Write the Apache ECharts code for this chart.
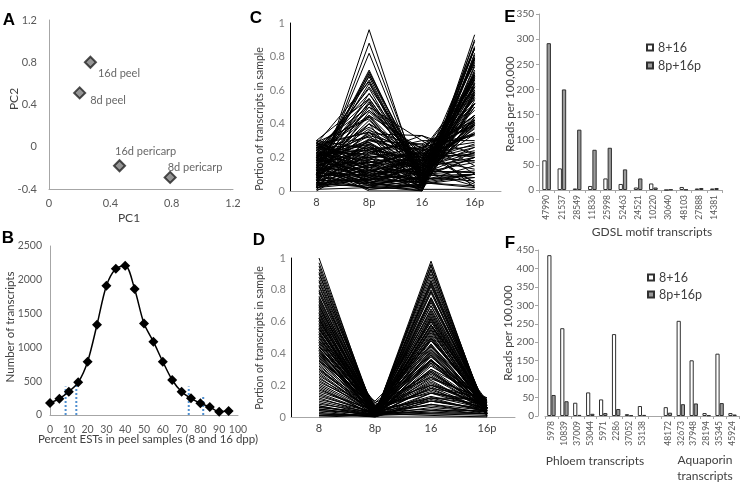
<!DOCTYPE html>
<html>
<head>
<meta charset="utf-8">
<script src="https://cdn.jsdelivr.net/npm/echarts@6/dist/echarts.min.js"></script>
<style>
  html, body { margin: 0; padding: 0; background: #fff; }
  #chart { width: 741px; height: 483px; }
</style>
</head>
<body>
<div id="chart"></div>
<script>
// A: PCA of the four samples
const pcaNames = ['16d peel', '8d peel', '16d pericarp', '8d pericarp'];
const pcaX = [0.27, 0.20, 0.46, 0.79];
const pcaY = [0.80, 0.51, -0.18, -0.29];

// B: distribution of transcripts by percent peel ESTs
const pctBins = [0, 5, 10, 15, 20, 25, 30, 35, 40, 45, 50, 55, 60, 65, 70, 75, 80, 85, 90, 95];
const binCounts = [177, 241, 345, 483, 789, 1335, 1913, 2165, 2209, 1864, 1352, 1085, 789, 518, 345, 246, 173, 118, 49, 59];
const cutX = [8.3, 14, 73.8, 81.5];
const cutTop = [420, 445, 420, 272];

// C, D: per-transcript portion in each sample
const samples = ['8', '8p', '16', '16p'];
const pericarpProfiles = [
  [0.02, 0.96, 0.01, 0.01], [0.04, 0.88, 0.05, 0.03], [0.06, 0.82, 0.04, 0.08], [0.12, 0.72, 0.06, 0.10],
  [0.10, 0.71, 0.09, 0.10], [0.15, 0.70, 0.05, 0.10], [0.08, 0.69, 0.12, 0.11], [0.18, 0.68, 0.04, 0.10],
  [0.20, 0.66, 0.08, 0.06], [0.14, 0.64, 0.10, 0.12], [0.22, 0.61, 0.07, 0.10], [0.09, 0.58, 0.15, 0.18],
  [0.17, 0.55, 0.11, 0.17], [0.25, 0.54, 0.06, 0.15], [0.13, 0.53, 0.14, 0.20], [0.19, 0.52, 0.09, 0.20],
  [0.27, 0.50, 0.12, 0.11], [0.07, 0.47, 0.18, 0.28], [0.16, 0.45, 0.13, 0.26], [0.23, 0.44, 0.10, 0.23],
  [0.29, 0.43, 0.08, 0.20], [0.11, 0.40, 0.22, 0.27], [0.21, 0.38, 0.17, 0.24], [0.05, 0.36, 0.26, 0.33],
  [0.28, 0.35, 0.14, 0.23], [0.18, 0.34, 0.33, 0.15], [0.26, 0.32, 0.20, 0.22], [0.14, 0.31, 0.21, 0.34],
  [0.24, 0.45, 0.25, 0.05], [0.30, 0.55, 0.12, 0.03], [0.20, 0.30, 0.28, 0.02], [0.10, 0.50, 0.30, 0.10],
  [0.20, 0.28, 0.15, 0.37], [0.15, 0.25, 0.18, 0.42], [0.25, 0.24, 0.12, 0.39], [0.10, 0.22, 0.20, 0.48],
  [0.28, 0.21, 0.08, 0.43], [0.18, 0.20, 0.22, 0.40], [0.05, 0.19, 0.16, 0.60], [0.22, 0.18, 0.10, 0.50],
  [0.12, 0.17, 0.14, 0.57], [0.27, 0.16, 0.05, 0.52], [0.08, 0.15, 0.25, 0.52], [0.19, 0.14, 0.11, 0.56],
  [0.24, 0.13, 0.03, 0.60], [0.03, 0.12, 0.19, 0.66], [0.14, 0.11, 0.06, 0.69], [0.21, 0.10, 0.02, 0.67],
  [0.09, 0.10, 0.13, 0.68], [0.26, 0.09, 0.08, 0.57], [0.16, 0.08, 0.01, 0.75], [0.06, 0.07, 0.10, 0.77],
  [0.11, 0.06, 0.03, 0.80], [0.23, 0.05, 0.00, 0.72], [0.02, 0.05, 0.07, 0.86], [0.13, 0.04, 0.02, 0.81],
  [0.18, 0.03, 0.09, 0.70], [0.07, 0.02, 0.01, 0.90], [0.04, 0.03, 0.00, 0.93], [0.10, 0.01, 0.04, 0.85],
  [0.01, 0.02, 0.12, 0.85], [0.15, 0.00, 0.00, 0.85], [0.20, 0.06, 0.15, 0.59], [0.25, 0.10, 0.20, 0.45],
  [0.05, 0.25, 0.28, 0.42], [0.12, 0.20, 0.26, 0.42], [0.17, 0.23, 0.30, 0.30], [0.22, 0.15, 0.24, 0.39],
  [0.08, 0.30, 0.22, 0.40], [0.28, 0.12, 0.18, 0.42], [0.10, 0.35, 0.05, 0.50], [0.03, 0.28, 0.02, 0.67],
  [0.14, 0.27, 0.01, 0.58], [0.06, 0.40, 0.00, 0.54], [0.20, 0.33, 0.03, 0.44], [0.00, 0.18, 0.00, 0.82],
  [0.02, 0.08, 0.05, 0.85], [0.12, 0.14, 0.00, 0.74], [0.26, 0.20, 0.02, 0.52], [0.09, 0.04, 0.08, 0.79],
  [0.19, 0.07, 0.05, 0.69], [0.04, 0.16, 0.09, 0.71], [0.30, 0.25, 0.25, 0.20], [0.27, 0.35, 0.20, 0.18],
  [0.16, 0.40, 0.18, 0.26], [0.23, 0.22, 0.33, 0.22], [0.13, 0.19, 0.27, 0.41], [0.29, 0.08, 0.22, 0.41],
  [0.18, 0.62, 0.16, 0.04], [0.24, 0.48, 0.23, 0.05], [0.11, 0.26, 0.04, 0.59], [0.21, 0.05, 0.12, 0.62],
  [0.03, 0.14, 0.21, 0.62], [0.07, 0.21, 0.17, 0.55], [0.11, 0.09, 0.19, 0.61], [0.15, 0.17, 0.23, 0.45],
  [0.19, 0.26, 0.16, 0.39], [0.23, 0.11, 0.21, 0.45], [0.27, 0.19, 0.14, 0.40], [0.01, 0.23, 0.13, 0.63],
  [0.05, 0.06, 0.24, 0.65], [0.09, 0.28, 0.11, 0.52], [0.13, 0.07, 0.18, 0.62], [0.17, 0.12, 0.07, 0.64],
  [0.21, 0.29, 0.06, 0.44], [0.25, 0.04, 0.16, 0.55], [0.29, 0.17, 0.19, 0.35], [0.02, 0.31, 0.15, 0.52],
  [0.06, 0.13, 0.03, 0.78], [0.10, 0.24, 0.08, 0.58], [0.14, 0.05, 0.15, 0.66], [0.18, 0.16, 0.04, 0.62],
  [0.22, 0.08, 0.18, 0.52], [0.26, 0.27, 0.09, 0.38], [0.30, 0.14, 0.11, 0.45], [0.04, 0.09, 0.17, 0.70],
  [0.08, 0.18, 0.06, 0.68], [0.12, 0.42, 0.12, 0.34], [0.16, 0.37, 0.07, 0.40], [0.20, 0.48, 0.19, 0.13],
  [0.24, 0.58, 0.10, 0.08], [0.28, 0.65, 0.05, 0.02], [0.06, 0.52, 0.21, 0.21], [0.10, 0.45, 0.06, 0.39],
  [0.14, 0.33, 0.24, 0.29], [0.18, 0.29, 0.12, 0.41], [0.22, 0.24, 0.20, 0.34], [0.26, 0.14, 0.26, 0.34],
  [0.02, 0.11, 0.23, 0.64], [0.05, 0.02, 0.04, 0.89], [0.08, 0.05, 0.02, 0.85], [0.12, 0.03, 0.06, 0.79],
  [0.17, 0.01, 0.03, 0.79], [0.03, 0.07, 0.14, 0.76], [0.09, 0.12, 0.10, 0.69], [0.20, 0.09, 0.07, 0.64]
];
const peelProfiles = [
  [1.00, 0.00, 0.00, 0.00], [0.95, 0.01, 0.02, 0.02], [0.93, 0.02, 0.03, 0.02], [0.90, 0.03, 0.05, 0.02],
  [0.88, 0.02, 0.08, 0.02], [0.85, 0.01, 0.10, 0.04], [0.82, 0.03, 0.12, 0.03], [0.80, 0.05, 0.10, 0.05],
  [0.78, 0.02, 0.15, 0.05], [0.75, 0.04, 0.18, 0.03], [0.73, 0.01, 0.20, 0.06], [0.72, 0.06, 0.17, 0.05],
  [0.70, 0.03, 0.22, 0.05], [0.68, 0.02, 0.25, 0.05], [0.67, 0.05, 0.21, 0.07], [0.65, 0.01, 0.28, 0.06],
  [0.63, 0.04, 0.27, 0.06], [0.62, 0.02, 0.30, 0.06], [0.60, 0.07, 0.28, 0.05], [0.58, 0.03, 0.33, 0.06],
  [0.57, 0.01, 0.35, 0.07], [0.55, 0.05, 0.34, 0.06], [0.54, 0.02, 0.38, 0.06], [0.52, 0.04, 0.39, 0.05],
  [0.50, 0.01, 0.42, 0.07], [0.49, 0.06, 0.40, 0.05], [0.48, 0.02, 0.44, 0.06], [0.46, 0.03, 0.45, 0.06],
  [0.45, 0.00, 0.48, 0.07], [0.44, 0.05, 0.46, 0.05], [0.42, 0.02, 0.50, 0.06], [0.41, 0.04, 0.49, 0.06],
  [0.40, 0.01, 0.53, 0.06], [0.38, 0.03, 0.54, 0.05], [0.37, 0.06, 0.51, 0.06], [0.36, 0.02, 0.56, 0.06],
  [0.35, 0.04, 0.55, 0.06], [0.33, 0.01, 0.60, 0.06], [0.32, 0.03, 0.58, 0.07], [0.30, 0.05, 0.60, 0.05],
  [0.28, 0.02, 0.63, 0.07], [0.26, 0.04, 0.64, 0.06], [0.25, 0.01, 0.68, 0.06], [0.23, 0.03, 0.70, 0.04],
  [0.22, 0.05, 0.67, 0.06], [0.20, 0.02, 0.72, 0.06], [0.18, 0.01, 0.75, 0.06], [0.17, 0.04, 0.73, 0.06],
  [0.15, 0.02, 0.78, 0.05], [0.13, 0.03, 0.80, 0.04], [0.12, 0.01, 0.82, 0.05], [0.10, 0.02, 0.85, 0.03],
  [0.08, 0.03, 0.84, 0.05], [0.07, 0.01, 0.88, 0.04], [0.06, 0.02, 0.90, 0.02], [0.05, 0.01, 0.93, 0.01],
  [0.03, 0.00, 0.96, 0.01], [0.01, 0.01, 0.98, 0.00], [0.07, 0.00, 0.10, 0.05], [0.05, 0.01, 0.06, 0.03],
  [0.04, 0.00, 0.12, 0.08], [0.01, 0.02, 0.04, 0.02], [0.06, 0.03, 0.02, 0.01], [0.02, 0.00, 0.15, 0.10],
  [0.00, 0.01, 0.08, 0.04], [0.60, 0.02, 0.18, 0.12], [0.40, 0.08, 0.20, 0.11], [0.55, 0.09, 0.25, 0.10],
  [0.45, 0.03, 0.30, 0.12], [0.65, 0.07, 0.15, 0.09], [0.35, 0.10, 0.45, 0.10], [0.50, 0.05, 0.35, 0.10],
  [0.70, 0.04, 0.12, 0.11], [0.38, 0.02, 0.62, 0.08], [0.42, 0.01, 0.58, 0.09], [0.52, 0.03, 0.45, 0.02],
  [0.58, 0.01, 0.40, 0.01], [0.62, 0.00, 0.36, 0.02], [0.47, 0.02, 0.52, 0.03], [0.43, 0.00, 0.55, 0.02],
  [0.97, 0.02, 0.01, 0.00], [0.91, 0.01, 0.04, 0.04], [0.86, 0.04, 0.07, 0.03], [0.83, 0.02, 0.11, 0.04],
  [0.79, 0.03, 0.13, 0.05], [0.76, 0.01, 0.19, 0.04], [0.74, 0.05, 0.16, 0.05], [0.71, 0.02, 0.23, 0.04],
  [0.69, 0.04, 0.20, 0.07], [0.66, 0.03, 0.26, 0.05], [0.64, 0.02, 0.29, 0.05], [0.61, 0.05, 0.29, 0.05],
  [0.59, 0.01, 0.34, 0.06], [0.56, 0.03, 0.36, 0.05], [0.53, 0.06, 0.36, 0.05], [0.51, 0.02, 0.41, 0.06],
  [0.47, 0.04, 0.43, 0.06], [0.43, 0.02, 0.49, 0.06], [0.39, 0.05, 0.50, 0.06], [0.34, 0.03, 0.57, 0.06],
  [0.31, 0.01, 0.62, 0.06], [0.29, 0.04, 0.61, 0.06], [0.27, 0.02, 0.65, 0.06], [0.24, 0.05, 0.66, 0.05],
  [0.21, 0.03, 0.70, 0.06], [0.19, 0.01, 0.74, 0.06], [0.16, 0.04, 0.75, 0.05], [0.14, 0.02, 0.79, 0.05],
  [0.11, 0.03, 0.83, 0.03], [0.09, 0.01, 0.86, 0.04], [0.04, 0.02, 0.92, 0.02], [0.02, 0.01, 0.95, 0.02],
  [0.56, 0.01, 0.32, 0.11], [0.48, 0.07, 0.36, 0.09], [0.62, 0.03, 0.24, 0.11], [0.36, 0.06, 0.48, 0.10],
  [0.30, 0.02, 0.58, 0.10], [0.44, 0.09, 0.38, 0.09], [0.53, 0.02, 0.42, 0.03], [0.39, 0.01, 0.58, 0.02]
];

// E: GDSL motif transcripts
const gdslIds = ['47990', '21537', '28549', '11836', '25998', '52463', '24521', '10220', '30640', '48103', '27888', '14381'];
const gdslPeel = [59, 43, 3, 8, 23, 12, 5, 13, 0, 6, 3, 3];
const gdslPericarp = [292, 200, 120, 80, 84, 41, 23, 5, 1, 1, 4, 4];

// F: phloem and aquaporin transcripts ('' is the gap between the groups)
const phloemIds = ['5978', '10839', '37009', '53044', '5971', '2286', '37052', '53138'];
const phloemPeel = [436, 238, 36, 64, 45, 222, 5, 27];
const phloemPericarp = [57, 40, 3, 6, 8, 19, 2, 3];
const aquaIds = ['48172', '32673', '37948', '28194', '35345', '45924'];
const aquaPeel = [24, 258, 151, 8, 169, 8];
const aquaPericarp = [9, 32, 34, 2, 35, 4];

const FONT = 'Lato';
const TICK = '#595959';
const AXIS = '#a6a6a6';

const chart = echarts.init(document.getElementById('chart'), null, { renderer: 'canvas' });

function grid(left, top, width, height) {
  return { left: left, top: top, width: width, height: height, containLabel: false, outerBoundsMode: 'none' };
}
function valAxis(idx, min, max, interval, extra) {
  return Object.assign({
    type: 'value', gridIndex: idx, min: min, max: max, interval: interval,
    splitLine: { show: false },
    axisLine: { show: true, onZero: false, lineStyle: { color: AXIS, width: 1 } },
    axisTick: { show: false },
    axisLabel: { color: TICK, fontFamily: FONT, fontSize: 11, margin: 8 }
  }, extra || {});
}
function catAxis(idx, data, extra) {
  return Object.assign({
    type: 'category', gridIndex: idx, data: data, boundaryGap: true,
    axisLine: { show: true, onZero: false, lineStyle: { color: AXIS, width: 1 } },
    axisTick: { show: false },
    axisLabel: { color: '#404040', fontFamily: FONT, fontSize: 11, margin: 6, interval: 0 }
  }, extra || {});
}
function txt(x, y, s, extra) {
  const o = {
    type: 'text', x: x, y: y, silent: true,
    style: { text: s, fontFamily: FONT, fontSize: 11, fill: '#404040', align: 'center', verticalAlign: 'middle' }
  };
  if (extra && extra.rotate) o.rotation = Math.PI / 2;
  if (extra && extra.style) Object.assign(o.style, extra.style);
  return o;
}
function letter(x, y, s) {
  return txt(x, y, s, { style: { fontFamily: 'Liberation Sans', fontWeight: 'bold', fontSize: 17, fill: '#000' } });
}
function profileSeries(lines, idx) {
  return lines.map(v => ({
    type: 'line', xAxisIndex: idx, yAxisIndex: idx, data: v,
    symbol: 'none', silent: true, lineStyle: { color: '#000', width: 1 }
  }));
}

const pcaLabelOffsets = [[-4, 11], [-1, 8], [-16, -14], [-14, -10]];
const whiteBar = { color: '#ffffff', borderColor: '#303030', borderWidth: 1 };
const greyBar = { color: '#9a9a9a', borderColor: '#303030', borderWidth: 1 };

const fIds = phloemIds.concat([''], aquaIds);
const fPeel = phloemPeel.concat([null], aquaPeel);
const fPericarp = phloemPericarp.concat([null], aquaPericarp);

const series = [];
// A
series.push({
  type: 'scatter', xAxisIndex: 0, yAxisIndex: 0,
  symbol: 'diamond', symbolSize: 11,
  itemStyle: { color: '#7a7a7a', borderColor: '#222', borderWidth: 2 },
  data: pcaNames.map((n, i) => ({
    name: n, value: [pcaX[i], pcaY[i]],
    label: { show: true, position: 'right', offset: pcaLabelOffsets[i], formatter: n,
      color: '#404040', fontFamily: FONT, fontSize: 11 }
  }))
});
// B
series.push({
  type: 'line', xAxisIndex: 1, yAxisIndex: 1, smooth: 0.3,
  data: pctBins.map((x, i) => [x, binCounts[i]]),
  symbol: 'diamond', symbolSize: 10,
  itemStyle: { color: '#000' }, lineStyle: { color: '#000', width: 1.5 }, z: 3
});
cutX.forEach((x, i) => series.push({
  type: 'line', xAxisIndex: 1, yAxisIndex: 1, data: [[x, 0], [x, cutTop[i]]],
  symbol: 'none', silent: true, z: 2,
  lineStyle: { color: '#4f8fd0', width: 2, type: [2, 2] }
}));
// C, D
profileSeries(pericarpProfiles, 2).forEach(s => series.push(s));
profileSeries(peelProfiles, 3).forEach(s => series.push(s));
// E
series.push({ type: 'bar', name: '8+16', xAxisIndex: 4, yAxisIndex: 4, data: gdslPeel, barWidth: 4.3, barGap: '0%', itemStyle: whiteBar });
series.push({ type: 'bar', name: '8p+16p', xAxisIndex: 4, yAxisIndex: 4, data: gdslPericarp, barWidth: 4.3, barGap: '0%', itemStyle: greyBar });
// F
series.push({ type: 'bar', name: '8+16', xAxisIndex: 5, yAxisIndex: 5, data: fPeel, barWidth: 4.2, barGap: '0%', itemStyle: whiteBar });
series.push({ type: 'bar', name: '8p+16p', xAxisIndex: 5, yAxisIndex: 5, data: fPericarp, barWidth: 4.2, barGap: '0%', itemStyle: greyBar });

const legendBase = {
  orient: 'vertical', icon: 'rect', itemWidth: 6, itemHeight: 6, itemTextGap: 2,
  data: ['8+16', '8p+16p'], selectedMode: false,
  textStyle: { color: '#404040', fontFamily: FONT, fontSize: 12.5 }
};

const barX = {
  axisTick: { show: true, length: 3, lineStyle: { color: AXIS } },
  axisLabel: { color: TICK, fontFamily: FONT, fontSize: 8.5, margin: 5, interval: 0, rotate: 90 }
};
const barY = {
  axisTick: { show: true, length: 3, lineStyle: { color: AXIS } }
};
const plain = v => String(v);

chart.setOption({
  animation: false,
  grid: [
    grid(49, 20, 184, 169),
    grid(50, 246, 188, 169),
    grid(290, 23, 211, 168),
    grid(291, 258, 224, 159),
    grid(539, 14, 183, 176),
    grid(545, 250, 194, 166)
  ],
  xAxis: [
    valAxis(0, 0, 1.2, 0.4, { axisLabel: { color: TICK, fontFamily: FONT, fontSize: 11, margin: 9 } }),
    valAxis(1, 0, 100, 10, { axisLabel: { color: TICK, fontFamily: FONT, fontSize: 10.5, margin: 9 } }),
    catAxis(2, samples),
    catAxis(3, samples),
    catAxis(4, gdslIds, barX),
    catAxis(5, fIds, barX)
  ],
  yAxis: [
    valAxis(0, -0.4, 1.2, 0.4, { axisLabel: { color: TICK, fontFamily: FONT, fontSize: 11, margin: 12 } }),
    valAxis(1, 0, 2500, 500, { axisLabel: { color: TICK, fontFamily: FONT, fontSize: 10.5, margin: 8, formatter: plain } }),
    valAxis(2, 0, 1, 0.2, { axisLine: { show: true, lineStyle: { color: '#000' } },
      axisLabel: { color: '#808080', fontFamily: FONT, fontSize: 11, margin: 5 } }),
    valAxis(3, 0, 1, 0.2, { axisLine: { show: true, lineStyle: { color: '#000' } },
      axisLabel: { color: '#808080', fontFamily: FONT, fontSize: 11, margin: 5 } }),
    valAxis(4, 0, 350, 50, Object.assign({ axisLabel: { color: TICK, fontFamily: FONT, fontSize: 10, margin: 5 } }, barY)),
    valAxis(5, 0, 450, 50, Object.assign({ offset: 7, axisLabel: { color: TICK, fontFamily: FONT, fontSize: 10, margin: 4 } }, barY))
  ],
  legend: [
    Object.assign({ left: 641, top: 36, itemGap: 5 }, legendBase),
    Object.assign({ left: 642, top: 266, itemGap: 4 }, legendBase)
  ],
  graphic: [
    letter(9, 20, 'A'), letter(8, 238, 'B'), letter(256, 18, 'C'),
    letter(259, 240, 'D'), letter(510, 17, 'E'), letter(510, 243, 'F'),
    txt(14, 99, 'PC2', { rotate: true, style: { fontSize: 12 } }),
    txt(129, 218, 'PC1', { style: { fontSize: 12 } }),
    txt(10, 327, 'Number of transcripts', { rotate: true, style: { fontSize: 11.5 } }),
    txt(148, 439, 'Percent ESTs in peel samples (8 and 16 dpp)', { style: { fontSize: 11.5 } }),
    txt(260, 119, 'Portion of transcripts in sample', { rotate: true, style: { fontSize: 10.5 } }),
    txt(260, 338, 'Portion of transcripts in sample', { rotate: true, style: { fontSize: 10.5 } }),
    txt(510, 104, 'Reads per 100,000', { rotate: true, style: { fontSize: 11.5 } }),
    txt(508, 333, 'Reads per 100,000', { rotate: true, style: { fontSize: 11.5 } }),
    txt(652, 232, 'GDSL motif transcripts', { style: { fontSize: 12 } }),
    txt(595, 461, 'Phloem transcripts', { style: { fontSize: 12 } }),
    txt(705, 460, 'Aquaporin', { style: { fontSize: 12 } }),
    txt(705, 476, 'transcripts', { style: { fontSize: 12 } })
  ],
  series: series
});
</script>
</body>
</html>
